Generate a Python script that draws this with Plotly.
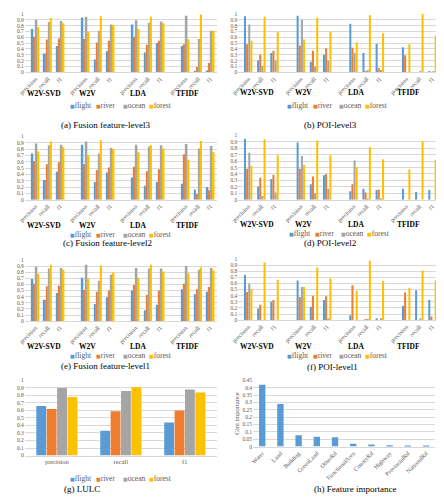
import plotly.graph_objects as go

# page body has an 8px margin: figure is sized to fill the rest of the window
OFF = 8
W, H = 444 - OFF, 500 - OFF

series_names = ["flight", "river", "ocean", "forest"]
series_colors = ["#5B9BD5", "#ED7D31", "#A5A5A5", "#FFC000"]
methods = ["W2V-SVD", "W2V", "LDA", "TFIDF"]
metrics = ["precision", "recall", "f1"]

# each list: W2V-SVD(p, r, f1), W2V(p, r, f1), LDA(p, r, f1), TFIDF(p, r, f1)
# (a) Fusion feature-level3
fl3_flight = [0.74, 0.32, 0.45, 0.94, 0.22, 0.36, 0.82, 0.34, 0.50, 0.45, 0.01, 0.03]
fl3_river = [0.61, 0.56, 0.58, 0.57, 0.51, 0.54, 0.61, 0.47, 0.54, 0.48, 0.09, 0.16]
fl3_ocean = [0.90, 0.86, 0.88, 0.95, 0.71, 0.82, 0.89, 0.85, 0.87, 0.97, 0.57, 0.71]
fl3_forest = [0.77, 0.93, 0.84, 0.69, 0.96, 0.81, 0.74, 0.95, 0.84, 0.56, 0.99, 0.71]

# (b) POI-level3
pl3_flight = [0.96, 0.20, 0.33, 0.97, 0.18, 0.30, 0.83, 0.33, 0.49, 0.43, 0.00, 0.01]
pl3_river = [0.48, 0.30, 0.37, 0.46, 0.37, 0.41, 0.42, 0.01, 0.07, 0.29, 0.00, 0.00]
pl3_ocean = [0.82, 0.11, 0.20, 0.90, 0.10, 0.20, 0.33, 0.04, 0.04, 0.00, 0.01, 0.01]
pl3_forest = [0.54, 0.95, 0.69, 0.56, 0.94, 0.70, 0.51, 0.98, 0.67, 0.48, 1.00, 0.63]

# (c) Fusion feature-level2
fl2_flight = [0.73, 0.31, 0.44, 0.87, 0.28, 0.43, 0.35, 0.22, 0.28, 0.25, 0.16, 0.20]
fl2_river = [0.61, 0.56, 0.59, 0.56, 0.47, 0.51, 0.52, 0.45, 0.48, 0.72, 0.09, 0.15]
fl2_ocean = [0.89, 0.86, 0.87, 0.92, 0.73, 0.82, 0.87, 0.84, 0.86, 0.88, 0.81, 0.85]
fl2_forest = [0.76, 0.92, 0.83, 0.70, 0.94, 0.80, 0.75, 0.86, 0.81, 0.63, 0.93, 0.75]

# (d) POI-level2
pl2_flight = [0.95, 0.20, 0.32, 0.89, 0.24, 0.38, 0.13, 0.17, 0.15, 0.17, 0.12, 0.15]
pl2_river = [0.48, 0.34, 0.39, 0.48, 0.36, 0.40, 0.24, 0.11, 0.16, 0.00, 0.00, 0.00]
pl2_ocean = [0.73, 0.06, 0.11, 0.68, 0.10, 0.17, 0.61, 0.01, 0.01, 0.00, 0.00, 0.00]
pl2_forest = [0.53, 0.94, 0.69, 0.54, 0.92, 0.69, 0.51, 0.82, 0.63, 0.47, 0.91, 0.62]

# (e) Fusion feature-level1
fl1_flight = [0.69, 0.35, 0.46, 0.71, 0.28, 0.39, 0.50, 0.18, 0.27, 0.52, 0.44, 0.48]
fl1_river = [0.61, 0.57, 0.58, 0.51, 0.48, 0.50, 0.59, 0.43, 0.50, 0.61, 0.52, 0.56]
fl1_ocean = [0.89, 0.86, 0.87, 0.92, 0.66, 0.76, 0.87, 0.86, 0.86, 0.90, 0.84, 0.87]
fl1_forest = [0.77, 0.92, 0.84, 0.69, 0.91, 0.79, 0.71, 0.92, 0.81, 0.78, 0.88, 0.83]

# (f) POI-level1
pl1_flight = [0.74, 0.19, 0.30, 0.65, 0.22, 0.33, 0.08, 0.00, 0.03, 0.23, 0.49, 0.33]
pl1_river = [0.46, 0.25, 0.33, 0.38, 0.40, 0.39, 0.57, 0.01, 0.00, 0.45, 0.00, 0.06]
pl1_ocean = [0.60, 0.00, 0.00, 0.54, 0.00, 0.03, 0.00, 0.01, 0.03, 0.00, 0.03, 0.00]
pl1_forest = [0.51, 0.94, 0.66, 0.54, 0.86, 0.68, 0.48, 0.97, 0.64, 0.53, 0.81, 0.65]

# (g) LULC  (precision, recall, f1)
lulc_flight = [0.66, 0.33, 0.44]
lulc_river = [0.62, 0.59, 0.60]
lulc_ocean = [0.90, 0.86, 0.88]
lulc_forest = [0.78, 0.91, 0.84]

# (h) Feature importance
features = ["Water", "Land", "Building", "GreenLand", "OtherRd", "FunctionalArea",
            "CountyRd", "Highway", "ProvincialRd", "NationalRd"]
gini = [0.42, 0.29, 0.078, 0.067, 0.064, 0.019, 0.014, 0.009, 0.008, 0.007]

SERIF = "Liberation Serif"
GRID = "#D9D9D9"
TICKC = "#595959"


def clamp(v):
    return min(1.0, max(0.0, v))


def px_x(p):
    # window pixel -> paper fraction
    return clamp((p - OFF) / W)


def px_y(p):
    return clamp(1 - (p - OFF) / H)


# build slots: metrics per method with a spacer slot between methods
slot_cats = []
slot_is_gap = []
for i, m in enumerate(methods):
    if i > 0:
        slot_cats.append(f"gap{i}")
        slot_is_gap.append(True)
    for k in metrics:
        slot_cats.append(f"{m}|{k}")
        slot_is_gap.append(False)
tick_vals = [c for c, g in zip(slot_cats, slot_is_gap) if not g]
tick_text = [c.split("|")[1] for c in tick_vals]
group_pos = [1, 4.5, 8.5, 12.5]


def expand(vals):
    it = iter(vals)
    return [None if g else next(it) for g in slot_is_gap]


LX0 = 18  # left-column plot start (room for tick labels)
TOP = 11  # top row plot start (room for the "1" tick label)

grouped_panels = [
    dict(vals=[fl3_flight, fl3_river, fl3_ocean, fl3_forest], cap="(a) Fusion feature-level3",
         box=(LX0, 213, TOP, 70), grp_y=92, leg=(62, 104), cap_xy=(100, 123)),
    dict(vals=[pl3_flight, pl3_river, pl3_ocean, pl3_forest], cap="(b) POI-level3",
         box=(235, 439, TOP, 70), grp_y=91, leg=(282, 104), cap_xy=(329, 123)),
    dict(vals=[fl2_flight, fl2_river, fl2_ocean, fl2_forest], cap="(c) Fusion feature-level2",
         box=(LX0, 213, 135, 199), grp_y=225, leg=(62, 234), cap_xy=(102, 243)),
    dict(vals=[pl2_flight, pl2_river, pl2_ocean, pl2_forest], cap="(d) POI-level2",
         box=(235, 439, 134, 199), grp_y=224, leg=(284, 233), cap_xy=(328, 243)),
    dict(vals=[fl1_flight, fl1_river, fl1_ocean, fl1_forest], cap="(e) Fusion feature-level1",
         box=(LX0, 213, 260, 322), grp_y=348, leg=(62, 357), cap_xy=(100, 367)),
    dict(vals=[pl1_flight, pl1_river, pl1_ocean, pl1_forest], cap="(f) POI-level1",
         box=(235, 439, 259, 321), grp_y=348, leg=(282, 357), cap_xy=(331, 368)),
]

fig = go.Figure()
annotations = []
layout_axes = {}


def legend_items(x0, y):
    for j, (n, c) in enumerate(zip(series_names, series_colors)):
        annotations.append(dict(
            xref="paper", yref="paper", x=px_x(x0 + j * 26.7), y=px_y(y),
            xanchor="left", yanchor="middle", showarrow=False,
            text=f"<span style='color:{c};font-family:DejaVu Sans;font-size:5px'>■</span>{n}",
            font=dict(family=SERIF, size=7.5, color=TICKC)))


def caption(text, xy):
    annotations.append(dict(xref="paper", yref="paper", x=px_x(xy[0]), y=px_y(xy[1]),
                            xanchor="center", yanchor="middle", showarrow=False, text=text,
                            font=dict(family=SERIF, size=9, color="black")))


for idx, p in enumerate(grouped_panels):
    n = idx + 1
    xa = "x" if n == 1 else f"x{n}"
    ya = "y" if n == 1 else f"y{n}"
    for s, vals in enumerate(p["vals"]):
        fig.add_trace(go.Bar(x=slot_cats, y=expand(vals), name=series_names[s],
                             marker=dict(color=series_colors[s], line=dict(width=0)),
                             xaxis=xa, yaxis=ya, showlegend=False))
    x0, x1, y0, y1 = p["box"]
    layout_axes["xaxis" if n == 1 else f"xaxis{n}"] = dict(
        domain=[px_x(x0), px_x(x1)], anchor=ya, type="category",
        categoryorder="array", categoryarray=slot_cats,
        tickmode="array", tickvals=tick_vals, ticktext=tick_text, tickangle=-45,
        tickfont=dict(family=SERIF, size=6, color=TICKC), showgrid=False,
        showline=True, linecolor=GRID, linewidth=1, ticks="", fixedrange=True)
    layout_axes["yaxis" if n == 1 else f"yaxis{n}"] = dict(
        domain=[px_y(y1), px_y(y0)], anchor=xa, range=[0, 1], dtick=0.1,
        tickfont=dict(family=SERIF, size=5.5, color=TICKC), showgrid=True,
        gridcolor=GRID, gridwidth=1, zeroline=False, showline=False, ticks="")
    for m, gp in zip(methods, group_pos):
        annotations.append(dict(xref=xa, yref="paper", x=gp, y=px_y(p["grp_y"]),
                                xanchor="center", yanchor="middle", showarrow=False,
                                xshift=-4, text=f"<b>{m}</b>",
                                font=dict(family=SERIF, size=7.5, color="black")))
    legend_items(*p["leg"])
    caption(p["cap"], p["cap_xy"])

# (g) LULC
for s, vals in enumerate([lulc_flight, lulc_river, lulc_ocean, lulc_forest]):
    fig.add_trace(go.Bar(x=metrics, y=vals, name=series_names[s],
                         marker=dict(color=series_colors[s], line=dict(width=0)),
                         xaxis="x7", yaxis="y7", showlegend=False))
layout_axes["xaxis7"] = dict(domain=[px_x(LX0), px_x(213)], anchor="y7", type="category",
                             tickfont=dict(family=SERIF, size=6.5, color=TICKC), showgrid=False,
                             showline=True, linecolor=GRID, linewidth=1, ticks="")
layout_axes["yaxis7"] = dict(domain=[px_y(458), px_y(382)], anchor="x7", range=[0, 1], dtick=0.1,
                             tickfont=dict(family=SERIF, size=5.5, color=TICKC), showgrid=True,
                             gridcolor=GRID, gridwidth=1, zeroline=False, ticks="")
legend_items(62, 481)
caption("(g) LULC", (76, 492))

# (h) Feature importance
fig.add_trace(go.Bar(x=features, y=gini, name="Gini importance", width=0.35,
                     marker=dict(color="#5B9BD5", line=dict(width=0)),
                     xaxis="x8", yaxis="y8", showlegend=False))
layout_axes["xaxis8"] = dict(domain=[px_x(250), px_x(435)], anchor="y8", type="category",
                             tickangle=-45, tickfont=dict(family=SERIF, size=6, color=TICKC),
                             showgrid=False, showline=True, linecolor=GRID, linewidth=1, ticks="")
layout_axes["yaxis8"] = dict(domain=[px_y(449), px_y(382)], anchor="x8", range=[0, 0.45],
                             dtick=0.05, tickfont=dict(family=SERIF, size=5.5, color=TICKC),
                             showgrid=True, gridcolor=GRID, gridwidth=1, zeroline=False, ticks="",
                             title=dict(text="Gini importance", standoff=2,
                                        font=dict(family=SERIF, size=6.5, color=TICKC)))
caption("(h) Feature importance", (354, 492))

fig.update_layout(
    width=W, height=H, margin=dict(l=0, r=0, t=0, b=0), autosize=False,
    paper_bgcolor="white", plot_bgcolor="white",
    barmode="group", bargap=0.35, bargroupgap=0.05,
    showlegend=False, annotations=annotations, **layout_axes)

fig.write_html("out.html")
